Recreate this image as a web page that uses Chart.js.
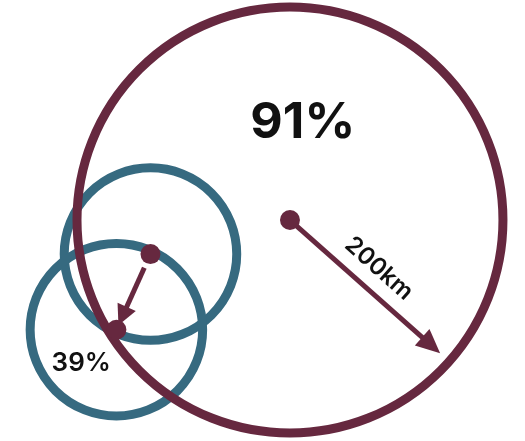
<!DOCTYPE html>
<html>
<head>
<meta charset="utf-8">
<script src="https://cdn.jsdelivr.net/npm/chart.js@4"></script>
<style>
	html, body { margin: 0; padding: 0; background: #fff; }
	canvas { display: block; }
</style>
</head>
<body>
<canvas id="rangeChart" width="525" height="441"></canvas>
<script>
// circles, in km from the centre of the big one
const circleX = [0, -131, -163];
const circleY = [0, -32, -103];
const circleR = [200, 81, 81];
// end of the 200km radius arrow
const radiusEndX = [141];
const radiusEndY = [-125];
const shareLabels = ['91%', '39%'];
const radiusLabel = '200km';

const MAROON = '#66283f';
const TEAL = '#366a80';

function drawArrow(c, x0, y0, x1, y1, width, headLen, headHalf, color) {
	const ang = Math.atan2(y1 - y0, x1 - x0);
	const bx = x1 - Math.cos(ang) * headLen;
	const by = y1 - Math.sin(ang) * headLen;
	c.save();
	c.strokeStyle = color;
	c.fillStyle = color;
	c.lineWidth = width;
	c.beginPath();
	c.moveTo(x0, y0);
	c.lineTo(bx + Math.cos(ang) * 2, by + Math.sin(ang) * 2);
	c.stroke();
	c.beginPath();
	c.moveTo(x1, y1);
	c.lineTo(bx + Math.sin(ang) * headHalf, by - Math.cos(ang) * headHalf);
	c.lineTo(bx - Math.sin(ang) * headHalf, by + Math.cos(ang) * headHalf);
	c.closePath();
	c.fill();
	c.restore();
}

const shapes = {
	id: 'shapes',
	beforeDatasetsDraw(chart) {
		const c = chart.ctx;
		const x = chart.scales.x;
		const y = chart.scales.y;
		const kx = x.getPixelForValue(1) - x.getPixelForValue(0);
		const ky = y.getPixelForValue(0) - y.getPixelForValue(1);

		// teal ones under, big maroon on top
		[1, 2, 0].forEach(function(i) {
			c.save();
			c.strokeStyle = i === 0 ? MAROON : TEAL;
			c.lineWidth = 9;
			c.beginPath();
			c.ellipse(x.getPixelForValue(circleX[i]), y.getPixelForValue(circleY[i]),
				circleR[i] * kx, circleR[i] * ky, 0, 0, Math.PI * 2);
			c.stroke();
			c.restore();
		});

		// big radius arrow
		drawArrow(c,
			x.getPixelForValue(circleX[0]), y.getPixelForValue(circleY[0]),
			x.getPixelForValue(radiusEndX[0]), y.getPixelForValue(radiusEndY[0]),
			5, 24, 11, MAROON);

		// small arrow between the teal centres
		const sx = x.getPixelForValue(circleX[1]);
		const sy = y.getPixelForValue(circleY[1]);
		const ex = x.getPixelForValue(circleX[2]);
		const ey = y.getPixelForValue(circleY[2]);
		const len = Math.hypot(ex - sx, ey - sy);
		const ux = (ex - sx) / len;
		const uy = (ey - sy) / len;
		drawArrow(c, sx + ux * 15, sy + uy * 15, ex - ux * 5, ey - uy * 5, 5, 20, 10, MAROON);
	},
	afterDatasetsDraw(chart) {
		const c = chart.ctx;
		const x = chart.scales.x;
		const y = chart.scales.y;
		c.save();
		c.fillStyle = '#111';
		c.textAlign = 'center';
		c.textBaseline = 'alphabetic';
		c.font = 'bold 50px Inter';
		c.fillText(shareLabels[0], x.getPixelForValue(12), y.getPixelForValue(77));
		c.font = '600 26px Inter';
		c.fillText(shareLabels[1], x.getPixelForValue(-196), y.getPixelForValue(-142));

		const ang = Math.atan2(
			y.getPixelForValue(radiusEndY[0]) - y.getPixelForValue(circleY[0]),
			x.getPixelForValue(radiusEndX[0]) - x.getPixelForValue(circleX[0]));
		c.translate(x.getPixelForValue(84), y.getPixelForValue(-45));
		c.rotate(ang);
		c.font = '600 24px Inter';
		c.fillText(radiusLabel, 0, 8);
		c.restore();
	}
};

new Chart(document.getElementById('rangeChart').getContext('2d'), {
	type: 'scatter',
	data: {
		datasets: [{
			data: circleX.map(function(v, i) { return { x: v, y: circleY[i] }; }),
			backgroundColor: MAROON,
			borderWidth: 0,
			pointRadius: 10,
			pointHoverRadius: 10
		}]
	},
	options: {
		responsive: false,
		animation: false,
		events: [],
		layout: { padding: 0, autoPadding: false },
		scales: {
			x: { type: 'linear', min: -272.3, max: 220.7, display: false },
			y: { type: 'linear', min: -207.5, max: 206.6, display: false }
		},
		plugins: { legend: { display: false }, tooltip: { enabled: false } }
	},
	plugins: [shapes]
});
</script>
</body>
</html>
